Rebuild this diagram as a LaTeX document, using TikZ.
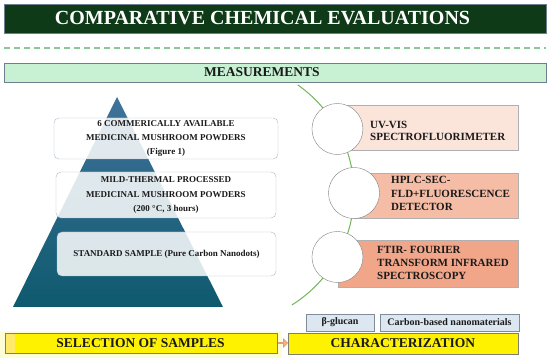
\documentclass[tikz,border=0pt]{standalone}
\usepackage{fontspec}
\setmainfont{Liberation Serif}
\usetikzlibrary{shapes.arrows}
\definecolor{titlegreen}{HTML}{0E3A17}
\definecolor{dashgreen}{HTML}{8CC79A}
\definecolor{measgreen}{HTML}{C8F0D3}
\definecolor{bordergray}{HTML}{6E7F8E}
\definecolor{pyrtop}{HTML}{41729A}
\definecolor{pyrbot}{HTML}{0E5A6E}
\definecolor{boxborder}{HTML}{A9BACB}
\definecolor{arcgreen}{HTML}{70B85A}
\definecolor{peachA}{HTML}{FBE4DA}
\definecolor{peachB}{HTML}{F5BDA6}
\definecolor{peachC}{HTML}{F1A68A}
\definecolor{rectborder}{HTML}{B0B0B0}
\definecolor{circborder}{HTML}{808080}
\definecolor{tagblue}{HTML}{DCE7F1}
\definecolor{tagborder}{HTML}{7F8C99}
\definecolor{glow}{HTML}{FEFED6}
\definecolor{barborder}{HTML}{7F7F6F}
\definecolor{paleyellow}{HTML}{FFE96A}
\definecolor{arroworange}{HTML}{F4B183}
\definecolor{arrowborder}{HTML}{D9884A}
\definecolor{ink}{HTML}{1A1A1A}
\begin{document}
\begin{tikzpicture}[x=1pt,y=-1pt,
  titlebar/.style={draw=bordergray, fill=titlegreen, inner sep=0, minimum width=542pt, minimum height=29pt},
  titletext/.style={text=white, font=\fontsize{20}{24}\selectfont\bfseries, inner sep=0},
  measbar/.style={draw=bordergray, fill=measgreen, inner sep=0, minimum width=542pt, minimum height=19pt},
  meastext/.style={text=ink, font=\fontsize{13.5}{16}\selectfont\bfseries, inner sep=0},
  pyrbox/.style={draw=boxborder, fill=white, fill opacity=0.85, text opacity=1, rounded corners=5pt, inner sep=0, align=center, text=ink, font=\fontsize{9}{14.3}\selectfont\bfseries},
  mrect/.style={draw=rectborder, inner sep=0},
  mcirc/.style={circle, draw=circborder, fill=white, minimum size=51pt, inner sep=0},
  mtext/.style={anchor=west, align=left, inner sep=0, text=ink},
  tagbox/.style={draw=tagborder, fill=tagblue, inner sep=0, minimum height=17pt, text=ink, font=\fontsize{10}{12}\selectfont\bfseries},
  yellowbar/.style={draw=barborder, fill=yellow, inner sep=0, text=ink, font=\fontsize{13.5}{16}\selectfont\bfseries},
  blockarrow/.style={single arrow, fill=arroworange, draw=arrowborder, minimum height=9pt, minimum width=8.5pt, single arrow head extend=1.2pt, inner sep=0}
]
\useasboundingbox (0,0) rectangle (550,358);
\fill[white] (0,0) rectangle (550,358);

% title
\node[titlebar] (title) at (275,18.5) {};
\node[titletext] (titletxt) at (262.5,18.5) {COMPARATIVE CHEMICAL EVALUATIONS};

% dashed separator
\coordinate (dashL) at (4,48);
\coordinate (dashR) at (546,48);
\draw[dashgreen, line width=1.2pt, dash pattern=on 6pt off 4pt] (dashL) -- (dashR);

% measurements
\node[measbar] (meas) at (275,72.5) {};
\node[meastext] (meastxt) at (262,72.5) {MEASUREMENTS};

% pyramid
\shade[top color=pyrtop, bottom color=pyrbot] (117,97) -- (223,307) -- (13,307) -- cycle;

\node[pyrbox, minimum width=224pt, minimum height=41pt] (b1) at (166,138.5)
  {6 COMMERICALLY AVAILABLE\\MEDICINAL MUSHROOM POWDERS\\(Figure 1)};
\node[pyrbox, minimum width=220pt, minimum height=46pt] (b2) at (166,195)
  {MILD-THERMAL PROCESSED\\MEDICINAL MUSHROOM POWDERS\\(200 °C, 3 hours)};
\node[pyrbox, minimum width=219pt, minimum height=44pt] (b3) at (166.5,254)
  {STANDARD SAMPLE (Pure Carbon Nanodots)};

% right side: rectangles
\node[mrect, fill=peachA, minimum width=180pt, minimum height=45pt] (r1) at (428,127.5) {};
\node[mrect, fill=peachB, minimum width=164pt, minimum height=45pt] (r2) at (436,195.5) {};
\node[mrect, fill=peachC, minimum width=180pt, minimum height=47pt] (r3) at (428,263.5) {};

% arc
\coordinate (arcc) at (222,193);
\draw[arcgreen, line width=1pt] (arcc) ++(55:132pt) arc[start angle=55, end angle=-58, radius=132pt];
\path (arcc) ++(29:132pt) coordinate (c1);
\path (arcc) ++(0:132pt) coordinate (c2);
\path (arcc) ++(-29:132pt) coordinate (c3);

\node[mcirc] (k1) at (c1) {};
\node[mcirc] (k2) at (c2) {};
\node[mcirc] (k3) at (c3) {};

\node[mtext, font=\fontsize{11}{12.5}\selectfont\bfseries] (t1) at (370,131)
  {UV-VIS\\SPECTROFLUORIMETER};
\node[mtext, font=\fontsize{11}{13.5}\selectfont\bfseries] (t2) at (391,193.5)
  {HPLC-SEC-\\FLD+FLUORESCENCE\\DETECTOR};
\node[mtext, font=\fontsize{11}{13}\selectfont\bfseries] (t3) at (377,263)
  {FTIR- FOURIER\\TRANSFORM INFRARED\\SPECTROSCOPY};

% tags
\node[tagbox, minimum width=68pt] (beta) at (340,322.5) {β-glucan};
\node[tagbox, minimum width=139pt] (carbon) at (449.5,322.5) {Carbon-based nanomaterials};

% bottom bars
\fill[glow] (0,331) rectangle (282,358);
\node[yellowbar, minimum width=272pt, minimum height=20pt,
  path picture={\fill[paleyellow] (path picture bounding box.north west) rectangle ([xshift=10pt]path picture bounding box.south west);}]
  (sel) at (141,343) {};
\node[inner sep=0, text=ink, font=\fontsize{13.5}{16}\selectfont\bfseries] (seltxt) at (140.5,343) {SELECTION OF SAMPLES};
\node[yellowbar, minimum width=230pt, minimum height=21pt] (char) at (403,343.5) {CHARACTERIZATION};
\node[blockarrow] (arr) at (282.8,343) {};
\end{tikzpicture}
\end{document}
